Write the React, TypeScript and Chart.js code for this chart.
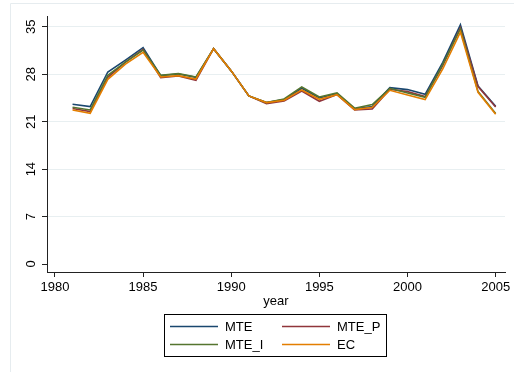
import React, { useEffect, useRef } from "react";
import { Chart, registerables } from "chart.js";

Chart.register(...registerables);

const years = [1981, 1982, 1983, 1984, 1985, 1986, 1987, 1988, 1989, 1990, 1991, 1992, 1993, 1994, 1995, 1996, 1997, 1998, 1999, 2000, 2001, 2002, 2003, 2004, 2005];
const mte = [23.57, 23.23, 28.34, 30.1, 31.93, 27.8, 28.04, 27.55, 31.78, 28.5, 24.8, 23.82, 24.26, 25.93, 24.51, 25.15, 22.89, 23.23, 26.03, 25.74, 25.05, 29.76, 35.3, 26.28, 23.28];
const mteP = [22.94, 22.5, 27.55, 29.8, 31.68, 27.5, 27.75, 27.1, 31.78, 28.5, 24.8, 23.67, 24.07, 25.54, 24.02, 25.0, 22.74, 22.89, 25.79, 25.44, 24.71, 29.27, 34.87, 26.18, 23.18];
const mteI = [23.13, 22.74, 27.85, 29.8, 31.58, 27.85, 28.1, 27.6, 31.78, 28.5, 24.8, 23.82, 24.36, 26.13, 24.66, 25.25, 22.99, 23.53, 25.93, 25.25, 24.61, 29.47, 34.68, 25.44, 22.2];
const ec = [22.74, 22.25, 27.26, 29.5, 31.24, 27.6, 27.8, 27.3, 31.78, 28.5, 24.8, 23.82, 24.16, 25.69, 24.31, 25.0, 22.79, 23.13, 25.64, 24.95, 24.26, 28.78, 34.23, 25.34, 22.1];

const seriesNames = ["MTE", "MTE_P", "MTE_I", "EC"];
const seriesColors = ["#1a476f", "#90353b", "#55752f", "#e37e00"];
const yTickValues = [0, 7, 14, 21, 28, 35];
const xTickValues = [1980, 1985, 1990, 1995, 2000, 2005];
const xTitle = "year";

const FONT = '"Liberation Sans", Arial, sans-serif';

const framePlugin = {
  id: "frame",
  beforeDraw(chart: any) {
    const ctx = chart.ctx;
    ctx.save();
    ctx.strokeStyle = "#e6ecef";
    ctx.lineWidth = 1;
    ctx.beginPath();
    ctx.moveTo(10.5, 372);
    ctx.lineTo(10.5, 3.5);
    ctx.lineTo(514, 3.5);
    ctx.stroke();
    ctx.restore();
  },
};

const legendPlugin = {
  id: "boxLegend",
  afterDraw(chart: any) {
    const ctx = chart.ctx;
    ctx.save();
    ctx.strokeStyle = "#000";
    ctx.lineWidth = 1;
    ctx.strokeRect(164.5, 314.5, 222, 42);
    ctx.font = "13px " + FONT;
    ctx.textBaseline = "middle";
    ctx.textAlign = "left";
    const cols = [170, 282];
    const rows = [326.5, 344.5];
    chart.data.datasets.forEach((ds: any, i: number) => {
      const cx = cols[i % 2];
      const cy = rows[Math.floor(i / 2)];
      ctx.strokeStyle = ds.borderColor;
      ctx.lineWidth = 1.6;
      ctx.beginPath();
      ctx.moveTo(cx, cy);
      ctx.lineTo(cx + 48, cy);
      ctx.stroke();
      ctx.fillStyle = "#000";
      ctx.fillText(ds.label, cx + 55, cy + 0.5);
    });
    ctx.restore();
  },
};

export default function App() {
  const ref = useRef<HTMLCanvasElement>(null);
  useEffect(() => {
    const all = [mte, mteP, mteI, ec];
    const chart = new Chart(ref.current!, {
      type: "line",
      data: {
        datasets: all.map((vals, i) => ({
          label: seriesNames[i],
          data: years.map((y, j) => ({ x: y, y: vals[j] })),
          borderColor: seriesColors[i],
          backgroundColor: seriesColors[i],
          borderWidth: 1.6,
          pointRadius: 0,
          tension: 0,
          fill: false,
          order: 3 - i,
        })),
      },
      options: {
        animation: false,
        responsive: false,
        devicePixelRatio: 1,
        layout: { padding: { left: 0, right: 9, top: 16, bottom: 0 } },
        plugins: { legend: { display: false }, tooltip: { enabled: false } },
        scales: {
          x: {
            type: "linear",
            min: 1979.55,
            max: 2005.53,
            afterBuildTicks: (s: any) => {
              s.ticks = xTickValues.map((v) => ({ value: v }));
            },
            afterFit: (s: any) => {
              s.height = 100;
            },
            ticks: {
              callback: (v: any) => String(v),
              color: "#000",
              font: { family: FONT, size: 13 },
              padding: 3,
              maxRotation: 0,
              minRotation: 0,
            },
            grid: { drawOnChartArea: false, tickColor: "#222", tickLength: 5, lineWidth: 1 },
            border: { color: "#222", width: 1 },
            title: {
              display: true,
              text: xTitle,
              color: "#000",
              font: { family: FONT, size: 13 },
              padding: { top: 0, bottom: 63 },
            },
          },
          y: {
            type: "linear",
            min: -1.18,
            max: 36.6,
            afterBuildTicks: (s: any) => {
              s.ticks = yTickValues.map((v) => ({ value: v }));
            },
            afterFit: (s: any) => {
              s.width = 47;
            },
            ticks: {
              color: "#000",
              font: { family: FONT, size: 13 },
              padding: 3,
              minRotation: 90,
              maxRotation: 90,
              crossAlign: "center",
            },
            grid: {
              color: (c: any) => (c.tick && c.tick.value === 0 ? "rgba(0,0,0,0)" : "#e8eff1"),
              tickColor: "#222",
              tickLength: 5,
              lineWidth: 1,
            },
            border: { color: "#222", width: 1 },
          },
        },
      },
      plugins: [framePlugin, legendPlugin],
    } as any);
    return () => chart.destroy();
  }, []);
  return (
    <div style={{ position: "fixed", left: 0, top: 0, width: 514, height: 372, background: "#fff" }}>
      <canvas ref={ref} width={514} height={372} style={{ display: "block" }} />
    </div>
  );
}
